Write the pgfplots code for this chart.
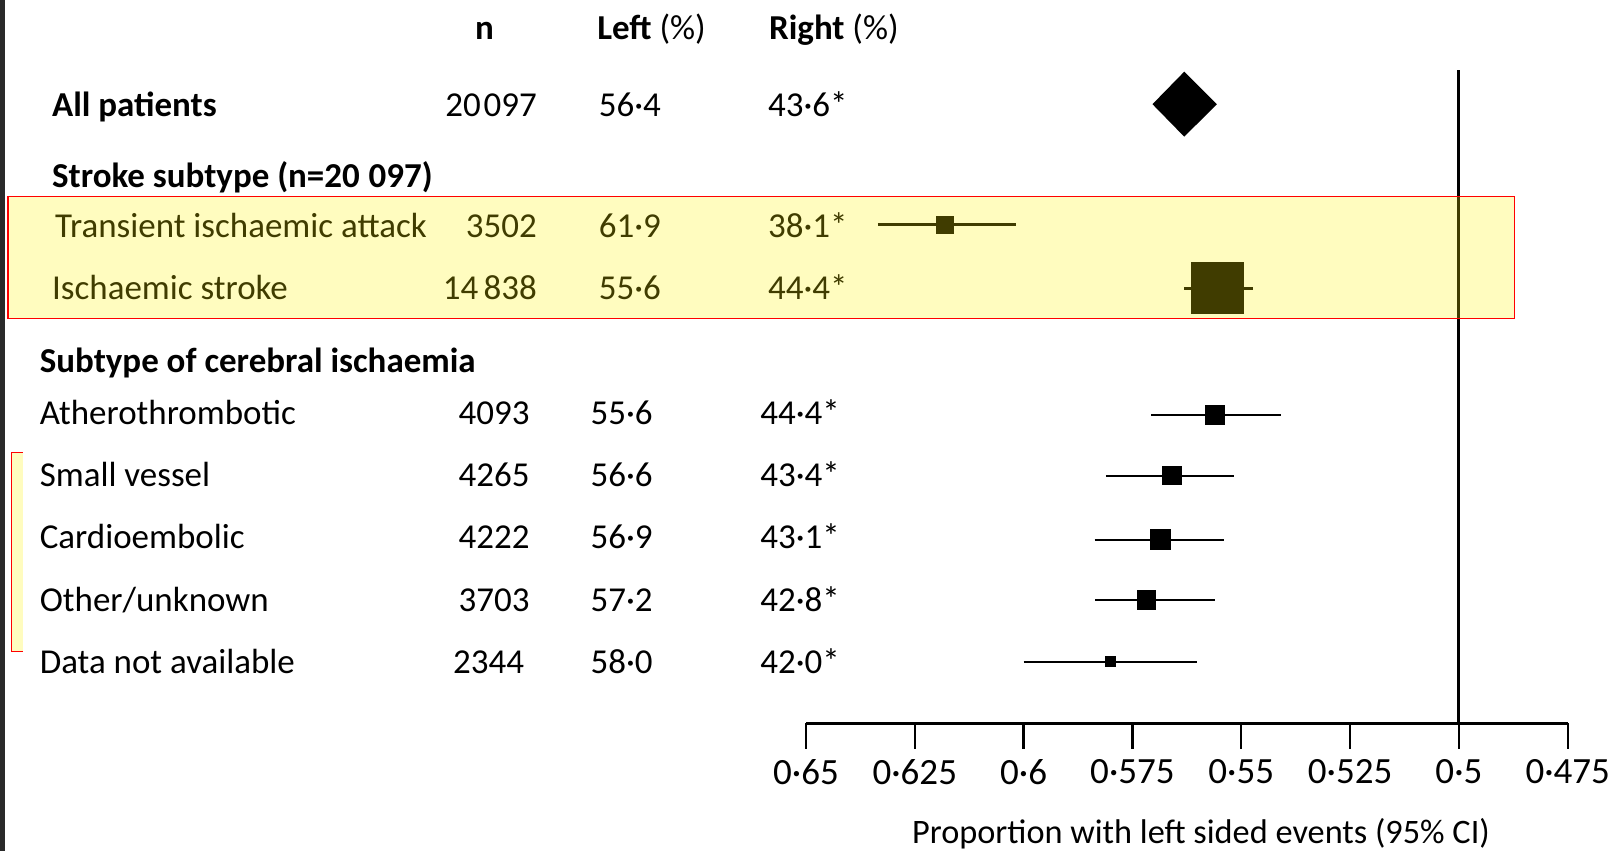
\documentclass[border=0pt]{standalone}
\usepackage{fontspec}
\setmainfont{Carlito}
\usepackage{pgfplots}
\pgfplotsset{compat=1.18}
\definecolor{strip}{RGB}{42,42,42}
\newcommand{\fs}{\fontsize{10.2pt}{12pt}\selectfont}
\newcommand{\fst}{\fontsize{10.8pt}{12pt}\selectfont}
\begin{document}%
\begin{tikzpicture}[font=\fs]
\begin{scope}[x=0.3pt,y=0.3pt]
\path (0,0) rectangle (1568,827);
\fill[strip] (0,0) rectangle (5,827);
\tikzset{t/.style={inner sep=0pt,font=\fs}}
% header
\node[t,anchor=base] at (471,789) {\bfseries n};
\node[t,anchor=base west] at (580,789) {\textbf{Left} (\%)};
\node[t,anchor=base west] at (747,789) {\textbf{Right} (\%)};
% all patients
\node[t,anchor=base west] at (50,713.5) {\bfseries All patients};
\node[t,anchor=base east] at (522.5,713.5) {20\kern0.08em097};
\node[t,anchor=base west] at (581.5,713.5) {56·4};
\node[t,anchor=base west] at (746,713.5) {43·6*};
% stroke subtype
\node[t,anchor=base west] at (50,644.5) {\bfseries Stroke subtype (n=20\kern0.25em097)};
\node[t,anchor=base west] at (53,596) {Transient ischaemic attack};
\node[t,anchor=base east] at (522.5,596) {3502};
\node[t,anchor=base west] at (581.5,596) {61·9};
\node[t,anchor=base west] at (746,596) {38·1*};
\node[t,anchor=base west] at (50,536) {Ischaemic stroke};
\node[t,anchor=base east] at (522.5,536) {14\kern0.15em838};
\node[t,anchor=base west] at (581.5,536) {55·6};
\node[t,anchor=base west] at (746,536) {44·4*};
% subtype of cerebral ischaemia
\node[t,anchor=base west] at (38,465) {\bfseries Subtype of cerebral ischaemia};
\node[t,anchor=base west] at (38,414) {Atherothrombotic};
\node[t,anchor=base east] at (515.5,414) {4093};
\node[t,anchor=base west] at (573.5,414) {55·6};
\node[t,anchor=base west] at (738.5,414) {44·4*};
\node[t,anchor=base west] at (38,354) {Small vessel};
\node[t,anchor=base east] at (515.5,354) {4265};
\node[t,anchor=base west] at (573.5,354) {56·6};
\node[t,anchor=base west] at (738.5,354) {43·4*};
\node[t,anchor=base west] at (38,293.5) {Cardioembolic};
\node[t,anchor=base east] at (515.5,293.5) {4222};
\node[t,anchor=base west] at (573.5,293.5) {56·9};
\node[t,anchor=base west] at (738.5,293.5) {43·1*};
\node[t,anchor=base west] at (38,233) {Other/unknown};
\node[t,anchor=base east] at (515.5,233) {3703};
\node[t,anchor=base west] at (573.5,233) {57·2};
\node[t,anchor=base west] at (738.5,233) {42·8*};
\node[t,anchor=base west] at (38,172.5) {Data not available};
\node[t,anchor=base east] at (510,172.5) {2344};
\node[t,anchor=base west] at (573.5,172.5) {58·0};
\node[t,anchor=base west] at (738.5,172.5) {42·0*};
% x label
\node[t,anchor=base,font=\fontsize{10pt}{12pt}\selectfont] at (1167.5,7) {Proportion with left sided events (95\% CI)};
\end{scope}

\begin{axis}[
  at={(235.05pt,37.2pt)}, anchor=south west,
  width=222.15pt, height=190.35pt, scale only axis,
  xmin=0.475, xmax=0.65, x dir=reverse,
  ymin=124, ymax=758.5,
  axis x line*=bottom, axis y line=none,
  xtick={0.65,0.625,0.6,0.575,0.55,0.525,0.5,0.475},
  xticklabels={0·65,0·625,0·6,0·575,0·55,0·525,0·5,0·475},
  tick align=outside, major tick length=7.5pt,
  x axis line style={line width=0.9pt},
  every tick/.style={black, line width=0.7pt},
  tick label style={font=\fst, yshift=0.5pt},
  ytick=\empty,
  clip=false,
]
% reference line
\addplot[black, line width=0.9pt] coordinates {(0.5,124) (0.5,758.5)};
% all patients (diamond)
\addplot[fill=black, draw=none] coordinates {(0.5704,725.7) (0.5631,757.3) (0.5556,725.7) (0.5631,694.1)} -- cycle;
% transient ischaemic attack
\addplot[black, line width=0.8pt] coordinates {(0.6335,608.4) (0.6017,608.4)};
\addplot[only marks, mark=square*, mark size=2.5pt, mark options={draw=none, fill=black}] coordinates {(0.6181,608.4)};
% ischaemic stroke
\addplot[black, line width=0.8pt] coordinates {(0.5631,546.5) (0.5473,546.5)};
\addplot[only marks, mark=square*, mark size=7.5pt, mark options={draw=none, fill=black}] coordinates {(0.5554,547)};
% atherothrombotic
\addplot[black, line width=0.6pt] coordinates {(0.5707,423.6) (0.5409,423.6)};
\addplot[only marks, mark=square*, mark size=2.65pt, mark options={draw=none, fill=black}] coordinates {(0.5561,423.6)};
% small vessel
\addplot[black, line width=0.6pt] coordinates {(0.5811,364.6) (0.5517,364.6)};
\addplot[only marks, mark=square*, mark size=2.65pt, mark options={draw=none, fill=black}] coordinates {(0.5659,364.6)};
% cardioembolic
\addplot[black, line width=0.6pt] coordinates {(0.5837,302.4) (0.5540,302.4)};
\addplot[only marks, mark=square*, mark size=2.8pt, mark options={draw=none, fill=black}] coordinates {(0.5686,302.4)};
% other/unknown
\addplot[black, line width=0.6pt] coordinates {(0.5836,243.7) (0.5561,243.7)};
\addplot[only marks, mark=square*, mark size=2.65pt, mark options={draw=none, fill=black}] coordinates {(0.5718,243.7)};
% data not available
\addplot[black, line width=0.6pt] coordinates {(0.6000,183.8) (0.5602,183.8)};
\addplot[only marks, mark=square*, mark size=1.35pt, mark options={draw=none, fill=black}] coordinates {(0.5800,183.8)};
\end{axis}

\begin{scope}[x=0.3pt,y=0.3pt]
\fill[yellow, fill opacity=0.25] (8,636) rectangle (1472,517.5);
\draw[red, line width=0.45pt] (8,636) rectangle (1472,517.5);
\fill[yellow, fill opacity=0.25] (11.3,387) rectangle (22,193.5);
\draw[red, line width=0.45pt] (22,387) -- (11.3,387) -- (11.3,193.5) -- (22,193.5);
\end{scope}
\pgfresetboundingbox
\path[use as bounding box] (0,0) rectangle (470.4pt,248.1pt);
\end{tikzpicture}%
\end{document}
